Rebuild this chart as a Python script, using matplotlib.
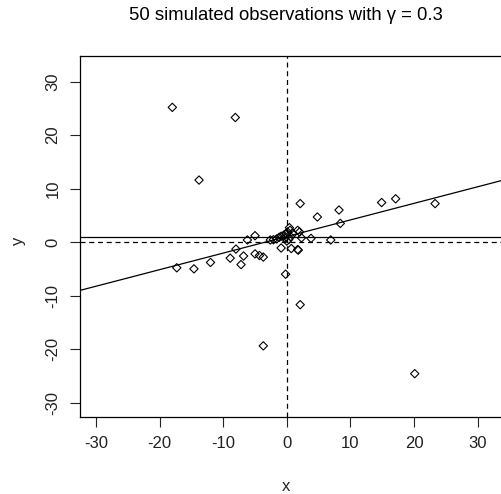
import numpy as np
import matplotlib
matplotlib.use("Agg")
import matplotlib.pyplot as plt

plt.rcParams['font.family'] = ['Liberation Sans', 'DejaVu Sans']

# observations
x = [-18.0, -8.1, -13.8, 2.1, 4.8, 8.2, 8.4, 14.9, 17.1, 23.3,
     6.9, 3.8, 2.3, 1.7, 2.0, 0.4, 0.5, -5.0, -6.2, -8.0,
     -17.3, -14.6, -12.0, -8.9, -7.2, -6.8, -5.0, -4.3, -3.7, -2.6,
     -2.1, -1.6, -1.2, -0.9, -0.5, -0.1, 0.1, -0.9, 0.7, 1.7,
     1.8, -0.2, 2.1, -3.7, 20.1, 0.3, 0.0, -0.3, 0.6, 1.0]
y = [25.2, 23.3, 11.6, 7.2, 4.7, 6.0, 3.5, 7.4, 8.1, 7.2,
     0.4, 0.7, 0.8, 2.2, 1.9, 2.7, 2.2, 1.2, 0.4, -1.3,
     -4.8, -5.0, -3.8, -3.0, -4.2, -2.6, -2.2, -2.5, -2.8, 0.4,
     0.45, 0.6, 0.9, 1.1, 1.3, 1.5, 1.9, -1.1, -1.2, -1.4,
     -1.5, -6.0, -11.7, -19.4, -24.6, 0.5, 0.2, 0.8, 1.0, 1.6]

fit_intercept = 1.05
fit_slope = 0.31
y_level = 1.0
ticks = [-30, -20, -10, 0, 10, 20, 30]

fig = plt.figure(figsize=(5.01, 4.94), dpi=100)
ax = fig.add_axes([80/501, 1-417/494, 1-80/501, (417-56)/494])

ax.scatter(x, y, marker='D', s=18, facecolors='none', edgecolors='black', linewidths=0.8, zorder=3)
ax.axvline(0, color='black', lw=0.9, ls=(0, (4, 3)))
ax.axhline(0, color='black', lw=0.9, ls=(0, (4, 3)))
ax.axhline(y_level, color='black', lw=0.9)
ax.axline((0, fit_intercept), slope=fit_slope, color='black', lw=0.9)

ax.set_xlim(-32.51, 33.66)
ax.set_ylim(-32.7, 34.8)
ax.set_xticks(ticks)
ax.set_yticks(ticks)
ax.set_xticklabels([str(t) for t in ticks])
ax.set_yticklabels([str(t) for t in ticks], rotation=90, va='center')
ax.tick_params(direction='out', length=7, width=0.8, labelsize=12, pad=7, colors='#222222')
ax.spines['right'].set_visible(False)
for s in ['left', 'top', 'bottom']:
    ax.spines[s].set_linewidth(0.9)

fig.text(286/501, 1-486/494, 'x', ha='center', va='center', fontsize=12, color='#222222')
fig.text(18/501, 1-241/494, 'y', ha='center', va='center', fontsize=12, rotation=90, color='#222222')
fig.text(286/501, 1-15/494, '50 simulated observations with γ = 0.3',
         ha='center', va='center', fontsize=13.3)

fig.savefig('out.png', dpi=100)
